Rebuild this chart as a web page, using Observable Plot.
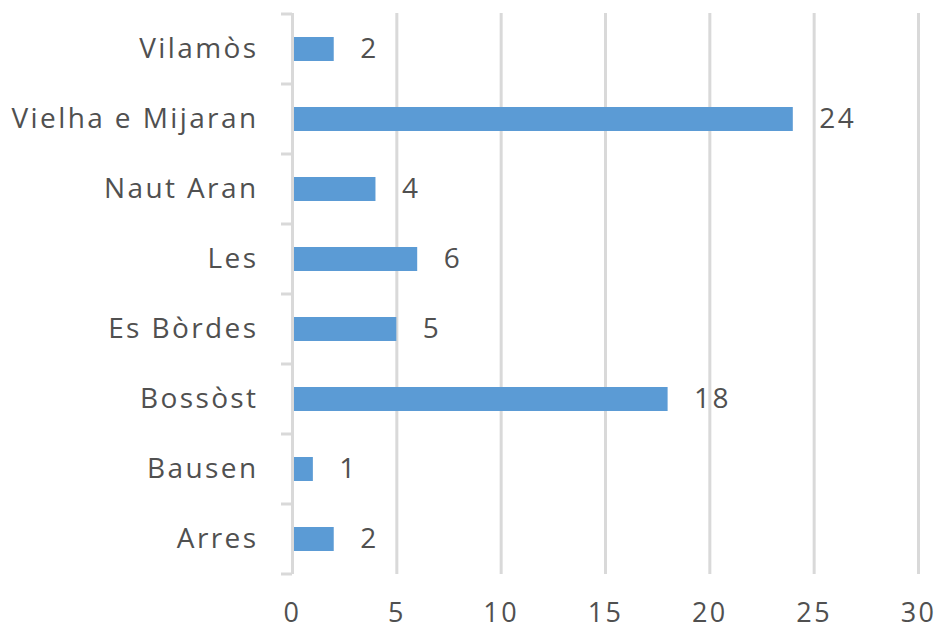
<!DOCTYPE html>
<html>
<head>
<meta charset="utf-8">
<script src="https://cdn.jsdelivr.net/npm/d3@7"></script>
<script src="https://cdn.jsdelivr.net/npm/@observablehq/plot@0.6"></script>
<style>
  html, body { margin: 0; padding: 0; background: #fff; }
  #chart svg { display: block; }
</style>
</head>
<body>
<div id="chart"></div>
<script>
const categories = ["Vilamòs", "Vielha e Mijaran", "Naut Aran", "Les", "Es Bòrdes", "Bossòst", "Bausen", "Arres"];
const values = [2, 24, 4, 6, 5, 18, 1, 2];
const xTicks = [0, 5, 10, 15, 20, 25, 30];

const data = categories.map((c, i) => ({name: c, value: values[i]}));

const textColor = "#505050";
const gridColor = "#d9d9d9";
const barColor = "#5b9bd5";

const plot = Plot.plot({
  width: 941,
  height: 628,
  marginLeft: 292,
  marginRight: 23,
  marginTop: 13,
  marginBottom: 54,
  style: {
    fontFamily: "'Open Sans', sans-serif",
    fontSize: "28px",
    color: textColor,
    background: "#fff",
    letterSpacing: "2.4px",
    overflow: "visible"
  },
  x: {domain: [0, 30], ticks: xTicks, label: null},
  y: {domain: categories, paddingInner: 0.66, paddingOuter: 0.33, label: null},
  marks: [
    Plot.ruleX(xTicks.filter(d => d > 0), {stroke: gridColor, strokeWidth: 3}),
    Plot.barX(data, {x: "value", y: "name", fill: barColor}),
    Plot.ruleX([0], {stroke: gridColor, strokeWidth: 3}),
    Plot.text(data, {x: "value", y: "name", text: d => String(d.value), textAnchor: "start", dx: 26, fill: textColor}),
    Plot.axisX({ticks: xTicks, tickSize: 0, tickPadding: 28, fill: textColor, fontSize: 27, label: null}),
    Plot.axisY({tickSize: 0, tickPadding: 34, fill: textColor, fontSize: 28, label: null})
  ]
});

// Tick marks at category boundaries, derived from the y band scale
const ys = plot.scale("y");
const xs = plot.scale("x");
const x0 = xs.apply(0);
const step = ys.step;
const bw = ys.bandwidth;
const boundaries = categories.map(c => ys.apply(c) + bw / 2 - step / 2);
boundaries.push(ys.apply(categories[categories.length - 1]) + bw / 2 + step / 2);
d3.select(plot).append("g")
  .attr("stroke", gridColor)
  .attr("stroke-width", 3)
  .selectAll("line")
  .data(boundaries)
  .join("line")
  .attr("x1", x0 - 11)
  .attr("x2", x0)
  .attr("y1", d => d)
  .attr("y2", d => d);

document.getElementById("chart").appendChild(plot);
</script>
</body>
</html>
